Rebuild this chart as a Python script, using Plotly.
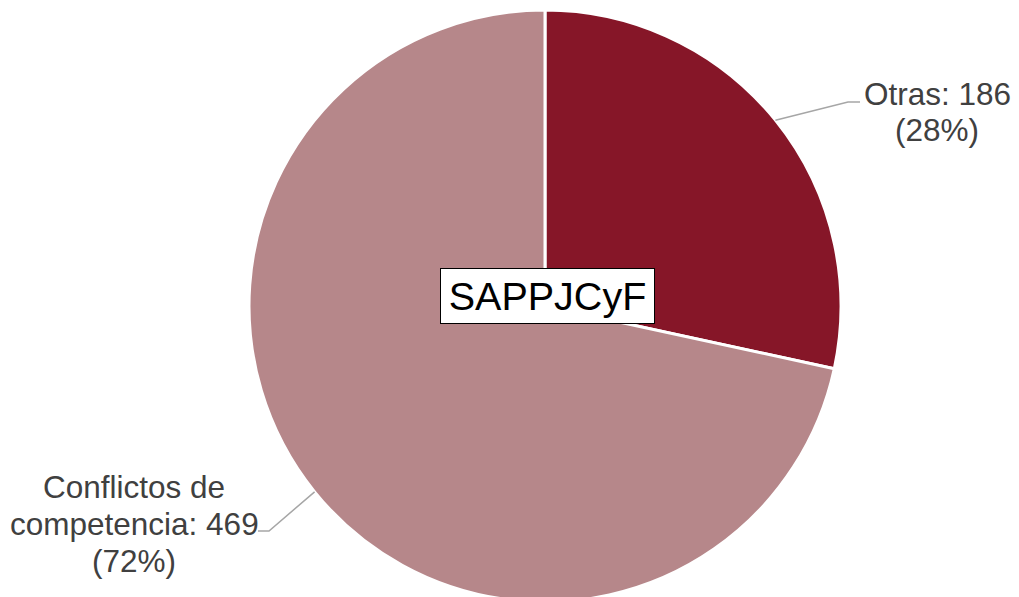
import math
import plotly.graph_objects as go

categories = ["Otras", "Conflictos de competencia"]
values = [186, 469]
colors = ["#861628", "#B6878A"]
center_title = "SAPPJCyF"

W, H = 1019, 605
# pie placement (pixels)
cx, cy, r = 545, 306, 296

def px(x):
    return x / W

def py(y):
    return (H - y) / H

fig = go.Figure(go.Pie(
    labels=categories,
    values=values,
    sort=False,
    direction="clockwise",
    rotation=0,
    textinfo="none",
    hoverinfo="label+value+percent",
    marker=dict(colors=colors, line=dict(color="white", width=3)),
    domain=dict(x=[px(cx - r), px(cx + r)], y=[py(cy + r), py(cy - r)]),
    showlegend=False,
))

total = sum(values)
cum = 0
mids = []
for v in values:
    mids.append((cum + v / 2) / total * 2 * math.pi)
    cum += v

def edge(mid):
    return cx + r * math.sin(mid), cy - r * math.cos(mid)

FONT = "Liberation Sans, Arial, sans-serif"
LABEL_SIZE = 31.5
annotations = []
shapes = []

def add_lines(lines, xc, ycs):
    for t, yc in zip(lines, ycs):
        annotations.append(dict(xref="paper", yref="paper", x=px(xc), y=py(yc),
                                xanchor="center", yanchor="middle",
                                text=t, showarrow=False,
                                font=dict(family=FONT, size=LABEL_SIZE, color="#404040")))

pcts = [round(v / total * 100) for v in values]

# Otras label (right)
ex, ey = edge(mids[0])
shapes.append(dict(type="path", xref="paper", yref="paper",
                   path=f"M {px(ex)},{py(ey)} L {px(848)},{py(102)} L {px(860)},{py(102)}",
                   line=dict(color="#A6A6A6", width=1.5)))
add_lines([f"{categories[0]}: {values[0]}", f"({pcts[0]}%)"], 937, [94, 130])

# Conflictos label (left)
ex, ey = edge(mids[1])
shapes.append(dict(type="path", xref="paper", yref="paper",
                   path=f"M {px(ex)},{py(ey)} L {px(269)},{py(531)} L {px(258)},{py(531)}",
                   line=dict(color="#A6A6A6", width=1.5)))
add_lines(["Conflictos de", f"competencia: {values[1]}", f"({pcts[1]}%)"], 134, [487, 524, 561])

# center title box
annotations.append(dict(xref="paper", yref="paper", x=px(547), y=py(296),
                        xanchor="center", yanchor="middle",
                        text=center_title, showarrow=False, width=209, height=50,
                        font=dict(family=FONT, size=39.5, color="black"),
                        bgcolor="white", bordercolor="black", borderwidth=1, borderpad=2))

fig.update_layout(
    width=W, height=H, autosize=False,
    margin=dict(l=0, r=0, t=0, b=0),
    paper_bgcolor="white", plot_bgcolor="white",
    annotations=annotations, shapes=shapes,
)

fig.write_html("out.html", config={"displayModeBar": False},
               post_script="document.body.style.margin='0';document.body.style.overflow='hidden';document.documentElement.style.overflow='hidden';")
